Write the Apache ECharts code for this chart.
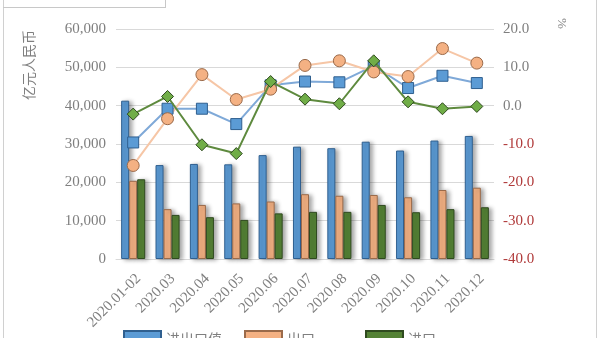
<!DOCTYPE html>
<html><head><meta charset="utf-8">
<script src="https://cdn.jsdelivr.net/npm/echarts@6/dist/echarts.min.js"></script>
<style>html,body{margin:0;padding:0;background:#fff}#c{width:600px;height:338px}</style>
</head><body><div id="c"></div>
<script>
const categories = ['2020.01-02','2020.03','2020.04','2020.05','2020.06','2020.07','2020.08','2020.09','2020.10','2020.11','2020.12'];
const totalValue = [41300,24500,24800,24700,27100,29300,28900,30600,28300,30900,32100];
const exportValue = [20400,13000,14100,14500,15000,16900,16500,16700,16100,18000,18600];
const importValue = [20800,11500,10900,10200,11900,12300,12300,14100,12200,13000,13500];
const totalGrowth = [-9.6,-0.8,-0.8,-4.8,5.3,6.3,6.1,10.4,4.6,7.8,5.9];
const exportGrowth = [-15.6,-3.4,8.1,1.6,4.3,10.5,11.7,8.8,7.6,14.9,11.1];
const importGrowth = [-2.2,2.4,-10.2,-12.5,6.3,1.7,0.5,11.7,1.0,-0.8,-0.2];
const leftTicks = {min:0, max:60000, interval:10000};
const rightTicks = {min:-40, max:20, interval:10};
const seriesNames = ['进出口值','出口','进口'];

const font = '"Liberation Serif", "DejaVu Serif", serif';
const cjk = '"Noto Sans CJK SC", sans-serif';
const chart = echarts.init(document.getElementById('c'));
const barShadow = {shadowColor:'rgba(0,0,0,0.35)', shadowBlur:4, shadowOffsetX:3, shadowOffsetY:1};
const legendLefts = [118, 239, 360];
chart.setOption({
  backgroundColor:'#fff',
  animation:false,
  grid:{left:116, right:106, top:29, bottom:79},
  legend: seriesNames.map((n,i)=>({
    top:325, left:legendLefts[i], itemWidth:37, itemHeight:16,
    data:[n],
    textStyle:{fontFamily:cjk, fontSize:14, color:'#7f7f7f'},
    icon:'rect'
  })),
  graphic:[
    {type:'text', left:22, top:30, rotation:Math.PI/2, style:{text:'亿元人民币', fontFamily:cjk, fontSize:14, fill:'#7f7f7f'}},
    {type:'text', left:555, top:18, rotation:-Math.PI/2, style:{text:'%', fontFamily:font, fontSize:13, fill:'#7f7f7f'}},
    {type:'line', shape:{x1:3.5,y1:0,x2:3.5,y2:338}, style:{stroke:'#d0d0d0', lineWidth:1}},
    {type:'line', shape:{x1:3,y1:7.5,x2:165,y2:7.5}, style:{stroke:'#c8c8c8', lineWidth:1}},
    {type:'line', shape:{x1:165.5,y1:0,x2:165.5,y2:8}, style:{stroke:'#c8c8c8', lineWidth:1}},
    {type:'line', shape:{x1:596.5,y1:0,x2:596.5,y2:338}, style:{stroke:'#d0d0d0', lineWidth:1}}
  ],
  xAxis:{
    type:'category', data:categories,
    axisTick:{show:false},
    axisLine:{lineStyle:{color:'#d9d9d9'}},
    axisLabel:{rotate:45, fontFamily:font, fontSize:15, color:'#7f7f7f', interval:0, margin:12, verticalAlign:'top'}
  },
  yAxis:[
    {type:'value', min:leftTicks.min, max:leftTicks.max, interval:leftTicks.interval,
     axisLine:{show:false}, axisTick:{show:false},
     splitLine:{lineStyle:{color:'#d9d9d9'}},
     axisLabel:{fontFamily:font, fontSize:15, color:'#7f7f7f', margin:10,
       formatter:v=>v.toLocaleString('en-US')}},
    {type:'value', min:rightTicks.min, max:rightTicks.max, interval:rightTicks.interval,
     axisLine:{show:false}, axisTick:{show:false}, splitLine:{show:false},
     axisLabel:{fontFamily:font, fontSize:15, margin:9,
       color:(v)=> Number(v) < 0 ? '#b03a3a' : '#7f7f7f',
       formatter:v=>Number(v).toFixed(1)}}
  ],
  series:[
    {name:seriesNames[0], type:'bar', data:totalValue, barGap:'0%', barCategoryGap:'30%',
     itemStyle:Object.assign({color:'#5b9bd5', borderColor:'#2f5f8f', borderWidth:1}, barShadow)},
    {name:seriesNames[1], type:'bar', data:exportValue,
     itemStyle:Object.assign({color:'#f4b183', borderColor:'#9a6a4a', borderWidth:1}, barShadow)},
    {name:seriesNames[2], type:'bar', data:importValue,
     itemStyle:Object.assign({color:'#548235', borderColor:'#2f4a1f', borderWidth:1}, barShadow)},
    {name:'进出口增速', type:'line', yAxisIndex:1, data:totalGrowth, z:5,
     symbol:'rect', symbolSize:11,
     lineStyle:{color:'#7fa9d8', width:2},
     itemStyle:{color:'#5b9bd5', borderColor:'#2f5f8f', borderWidth:1}},
    {name:'出口增速', type:'line', yAxisIndex:1, data:exportGrowth, z:5,
     symbol:'circle', symbolSize:12,
     lineStyle:{color:'#f6c6a6', width:2},
     itemStyle:{color:'#f4b183', borderColor:'#9a6a4a', borderWidth:1}},
    {name:'进口增速', type:'line', yAxisIndex:1, data:importGrowth, z:6,
     symbol:'diamond', symbolSize:12,
     lineStyle:{color:'#5e8a3e', width:2},
     itemStyle:{color:'#70ad47', borderColor:'#2f4a1f', borderWidth:1}}
  ]
});
</script></body></html>
